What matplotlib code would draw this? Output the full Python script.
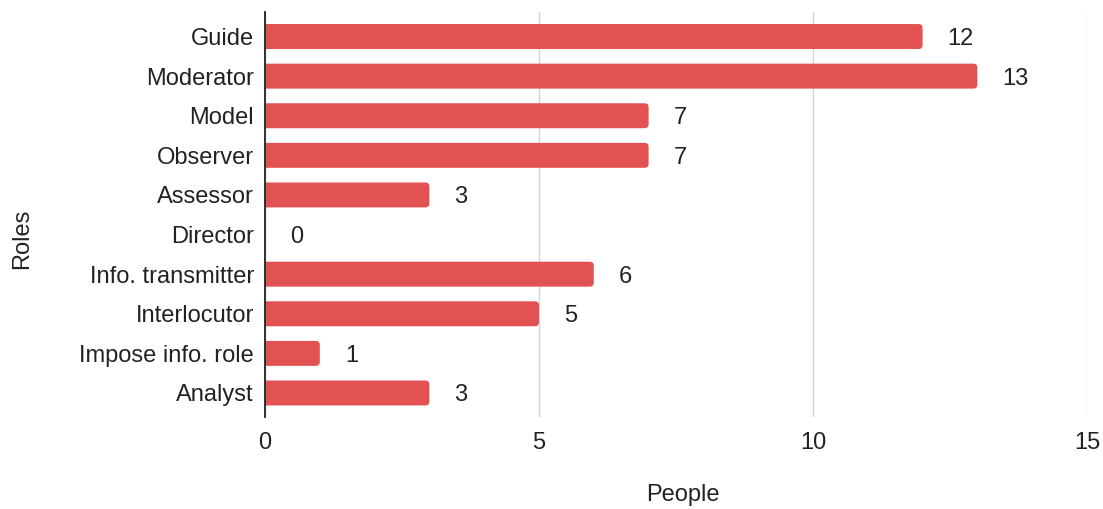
import matplotlib
matplotlib.use("Agg")
import matplotlib.pyplot as plt
from matplotlib.patches import FancyBboxPatch

roles = ["Guide", "Moderator", "Model", "Observer", "Assessor", "Director",
         "Info. transmitter", "Interlocutor", "Impose info. role", "Analyst"]
people = [12, 13, 7, 7, 3, 0, 6, 5, 1, 3]
x_ticks = [0, 5, 10, 15]

BAR_COLOR = "#e35253"
TEXT_COLOR = "#222222"
FONT = ["Liberation Sans", "DejaVu Sans"]
FS = 17

plt.rcParams["font.family"] = FONT

fig = plt.figure(figsize=(11.03, 5.09), dpi=100)
W, H = 1103, 509
left, right, top, bottom = 265, 1087, 12, 417
ax = fig.add_axes([left / W, 1 - bottom / H, (right - left) / W, (bottom - top) / H])

ax.set_xlim(0, 15)
ax.set_ylim(9.606, -0.619)

# bar geometry in pixels -> data units for rounded ends
px_x = (right - left) / 15.0
px_y = (bottom - top) / (9.606 + 0.619)
radius_px = 4
bar_h = 0.63
r_x = radius_px / px_x
aspect = (radius_px / px_y) / r_x

for i, v in enumerate(people):
    if v > 0:
        start = -0.2
        patch = FancyBboxPatch((start, i - bar_h / 2), v - start, bar_h,
                               boxstyle=f"round,pad=0,rounding_size={r_x}",
                               mutation_aspect=aspect,
                               facecolor=BAR_COLOR, edgecolor="none",
                               zorder=3, clip_on=True)
        ax.add_patch(patch)
    ax.annotate(f"{v}", xy=(v, i), xytext=(18, 0), textcoords="offset points",
                ha="left", va="center_baseline", fontsize=FS, color=TEXT_COLOR,
                zorder=4, annotation_clip=False)

ax.set_yticks(range(len(roles)))
ax.set_yticklabels(roles, fontsize=FS, color=TEXT_COLOR)
ax.set_xticks(x_ticks)
ax.set_xticklabels([str(t) for t in x_ticks], fontsize=FS, color=TEXT_COLOR)
ax.tick_params(axis="both", length=0)
ax.tick_params(axis="x", pad=11)
ax.tick_params(axis="y", pad=8)

ax.grid(axis="x", color="#d4d4d4", linewidth=1, zorder=0)
ax.set_axisbelow(True)
for s in ["top", "right", "bottom"]:
    ax.spines[s].set_visible(False)
ax.spines["left"].set_color("#222222")
ax.spines["left"].set_linewidth(1.3)
ax.spines["left"].set_zorder(5)

fig.text(683 / W, 1 - 495 / H, "People", ha="center", va="center",
         fontsize=FS, color=TEXT_COLOR)
fig.text(22 / W, 1 - 239 / H, "Roles", ha="center", va="center",
         rotation=90, fontsize=FS, color=TEXT_COLOR)

fig.savefig("out.png", dpi=100, facecolor="white")
